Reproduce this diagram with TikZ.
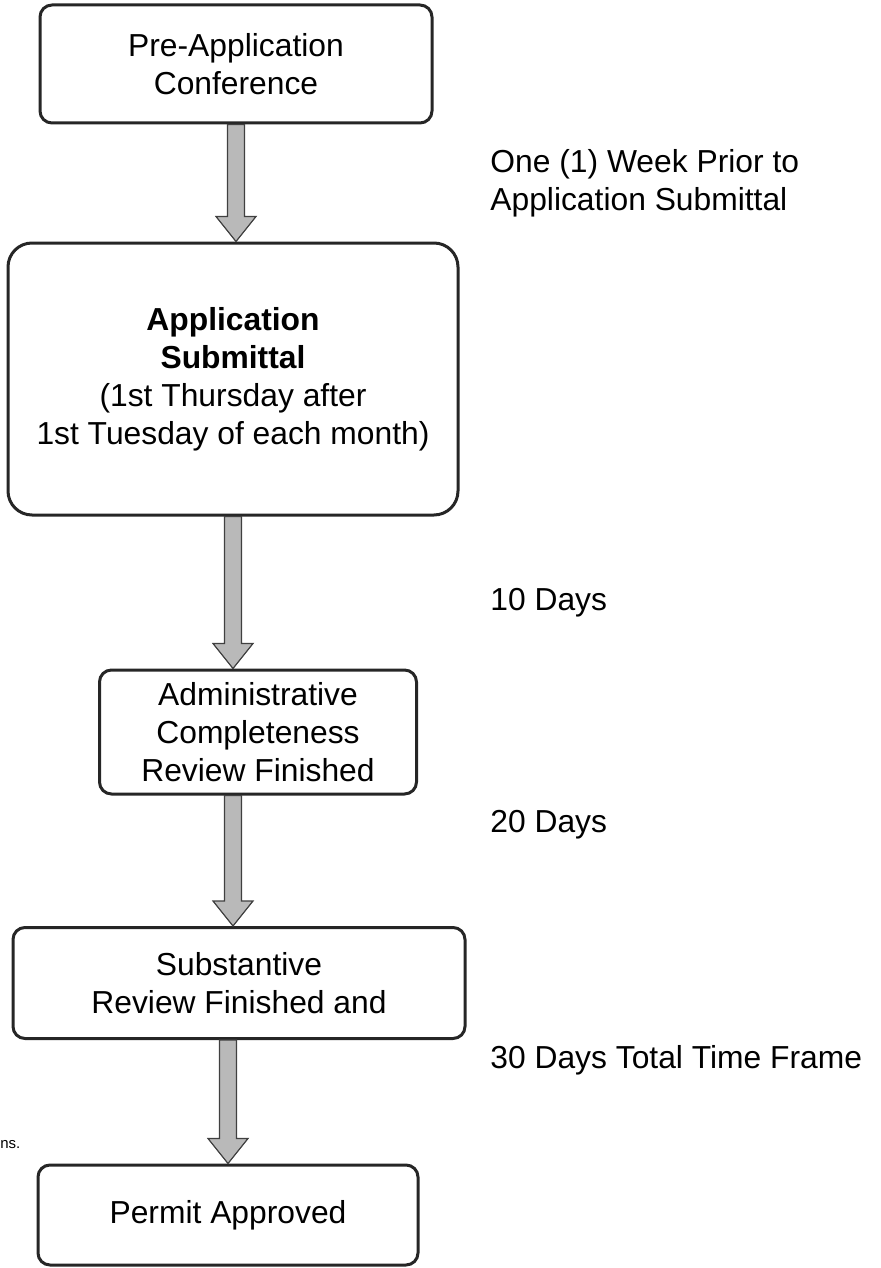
\documentclass[tikz,border=0pt]{standalone}
\usepackage{fontspec}
\setmainfont{Liberation Sans}
\usepackage{tikz}
\tikzset{>=latex}
\usetikzlibrary{calc}
\tikzset{stepbox/.style={draw=black!85,line width=1.5pt,rounded corners=6pt,align=center,inner sep=0pt},
	timelabel/.style={anchor=west,align=left,inner sep=0pt},
	blockarrow/.style={draw=black!75,line width=0.6pt,fill=gray!55,
		to path={let \p1=(\tikztostart),\p2=(\tikztotarget) in
			(\x1-4.25pt,\y1) -- (\x1+4.25pt,\y1) -- (\x1+4.25pt,\y2+12.5pt) -- (\x1+10pt,\y2+12.5pt)
			-- (\x1,\y2) -- (\x1-10pt,\y2+12.5pt) -- (\x1-4.25pt,\y2+12.5pt) -- cycle}}}

\begin{document}
\begin{tikzpicture}[x=0.5pt,y=-0.5pt,font=\fontsize{15.9pt}{19pt}\selectfont]
			\useasboundingbox (0,0) rectangle (880,1268);
			% boxes
			\node[stepbox,minimum width=196pt,minimum height=59pt] (pre) at (236,64) {Pre-Application\\Conference};
			\node[stepbox,rounded corners=12pt,minimum width=225pt,minimum height=136pt] (app) at (233,379) {\textbf{Application}\\\textbf{Submittal}\\(1st Thursday after\\1st Tuesday of each month)};
			\node[stepbox,minimum width=158.5pt,minimum height=62pt] (admin) at (258,732) {Administrative\\Completeness\\Review Finished};
			\node[stepbox,minimum width=226pt,minimum height=55.5pt] (subst) at (239,983) {Substantive\\Review Finished and};
			\node[stepbox,minimum width=190pt,minimum height=50pt] (permit) at (228,1215) {Permit Approved};
			% time frames
			\node[timelabel] (week) at (490,183) {One (1) Week Prior to\\Application Submittal};
			\node[timelabel] (days10) at (490,603) {10 Days};
			\node[timelabel] (days20) at (490,825) {20 Days};
			\node[timelabel] (days30) at (490,1060) {30 Days Total Time Frame};
			\node[anchor=west,inner sep=0pt,font=\fontsize{7.5pt}{8pt}\selectfont] (cut) at (0,1145) {ns.};
			% arrows
			\coordinate (a3) at (app.south |- admin.south);
			\coordinate (a4) at (permit.north |- subst.south);
			\draw[blockarrow] (pre.south) to (app.north);
			\draw[blockarrow] (app.south) to (app.south |- admin.north);
			\draw[blockarrow] (a3) to (subst.north);
			\draw[blockarrow] (a4) to (permit.north);
\end{tikzpicture}
\end{document}
